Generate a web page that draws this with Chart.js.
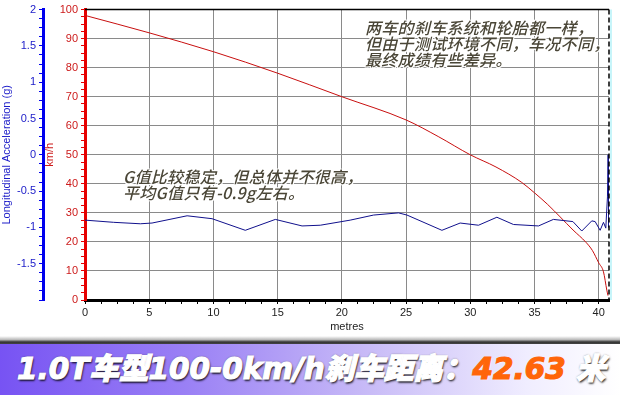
<!DOCTYPE html>
<html>
<head>
<meta charset="utf-8">
<script src="https://cdn.jsdelivr.net/npm/chart.js@4"></script>
<style>
    body { margin: 0; background: #fff; }
    #wrap { position: relative; width: 620px; height: 395px; overflow: hidden; background: #fff; }
    #chartBox { position: absolute; left: 0; top: 0; width: 620px; height: 340px; }
    .note {
        position: absolute;
        font-family: "Noto Sans CJK SC", sans-serif;
        font-style: italic;
        font-weight: 500;
        font-size: 16px;
        line-height: 16px;
        letter-spacing: 0.3px;
        color: #4a4637;
        white-space: nowrap;
        text-shadow: 1px 1px 0 #fff, -1px -1px 0 #fff, 1px -1px 0 #fff, -1px 1px 0 #fff;
    }
    #shadow {
        position: absolute; left: 0; top: 336px; width: 620px; height: 8px;
        background: linear-gradient(180deg, rgba(255,255,255,0) 0%, #bbb 45%, #333 75%, #444 100%);
    }
    #banner {
        position: absolute; left: 0; top: 344px; width: 620px; height: 51px;
        background: linear-gradient(90deg, #7753f3 0%, #9a80f5 30%, #c9bcf7 60%, #f0edff 85%, #ffffff 100%);
    }
    #banner span.t {
        position: absolute; left: 17px; top: 6px;
        font-family: "DejaVu Sans", "Noto Sans CJK SC", sans-serif;
        font-weight: 900;
        font-style: italic;
        font-size: 29.5px;
        line-height: 38px;
        color: #fff;
        -webkit-text-stroke: 1.2px #fff;
        white-space: nowrap;
        text-shadow: 1px 2px 2px rgba(0,0,0,0.8), 0 0 2px #444;
    }
    #banner .num {
        color: #ff650a;
        -webkit-text-stroke: 1.2px #ff650a;
        text-shadow: 0 0 1px #fff, 1px 1px 1px rgba(255,255,255,0.8);
    }
</style>
</head>
<body>
<div id="wrap">
    <div id="chartBox"><canvas id="brakeChart"></canvas></div>
    <div class="note" style="left:365px; top:19px;">两车的刹车系统和轮胎都一样，<br>但由于测试环境不同，车况不同，<br>最终成绩有些差异。</div>
    <div class="note" style="left:123px; top:168px;">G值比较稳定，但总体并不很高，<br>平均G值只有-0.9g左右。</div>
    <div id="shadow"></div>
    <div id="banner"><span class="t">1.0T车型100-0km/h刹车距离：<span class="num">42.63</span> 米</span></div>
</div>

<script>
// Velocidade (km/h) x distância (m)
const speedDist = [0, 5, 10, 15, 20, 25, 27.5, 30, 32, 34, 35, 36, 37, 38, 39, 39.5, 40, 40.37, 40.63, 40.72];
const speedKmh = [98.0, 92.0, 85.5, 78.1, 70.0, 62.0, 56.3, 50.0, 45.8, 40.5, 36.9, 33.0, 28.6, 24.1, 19.9, 17.1, 12.8, 9.7, 3.4, 1.5];

// Aceleração longitudinal (g) x distância (m)
const accelDist = [0, 2.23, 4.31, 5.22, 7.95, 9.89, 12.48, 14.82, 16.9, 18.32, 20.65, 22.47, 24.41, 25.07, 27.79,
    29.21, 30.64, 32.07, 33.36, 35.31, 36.47, 37.99, 38.68, 39.46, 39.72, 40.11, 40.37, 40.55, 40.68, 40.73, 40.78];
const accelG = [-0.90, -0.93, -0.95, -0.94, -0.84, -0.88, -1.04, -0.89, -0.98, -0.97, -0.90, -0.83, -0.80, -0.83, -1.04,
    -0.94, -0.97, -0.86, -0.96, -0.98, -0.89, -0.92, -1.05, -0.91, -0.92, -1.04, -0.93, -1.01, -0.58, 0.0, -1.0];

// Rótulos dos eixos
const distLabels = [0, 5, 10, 15, 20, 25, 30, 35, 40];
const speedLabels = [0, 10, 20, 30, 40, 50, 60, 70, 80, 90, 100];
const gLabels = [-1.5, -1, -0.5, 0, 0.5, 1, 1.5, 2];

const tickFont = { family: 'Liberation Sans', size: 11 };

function toPoints(xs, ys) {
    return xs.map((x, i) => ({ x: x, y: ys[i] }));
}

// Moldura: linha superior e borda direita tracejada
const framePlugin = {
    id: 'frame',
    afterDraw(chart) {
        const { ctx, chartArea: a } = chart;
        ctx.save();
        ctx.strokeStyle = '#000';
        ctx.lineWidth = 1.5;
        ctx.beginPath();
        ctx.moveTo(a.left, a.top);
        ctx.lineTo(a.right, a.top);
        ctx.stroke();
        ctx.setLineDash([5, 3]);
        ctx.beginPath();
        ctx.moveTo(a.right, a.top);
        ctx.lineTo(a.right, a.bottom);
        ctx.stroke();
        ctx.setLineDash([]);
        ctx.strokeStyle = '#b4f2f8';
        ctx.lineWidth = 1.5;
        ctx.beginPath();
        ctx.moveTo(a.right + 2, a.top);
        ctx.lineTo(a.right + 2, a.bottom);
        ctx.stroke();
        ctx.restore();
    }
};

function initBrakeChart() {
    const ctx = document.getElementById('brakeChart').getContext('2d');

    new Chart(ctx, {
        type: 'line',
        data: {
            datasets: [{
                label: 'Longitudinal Acceleration (g)',
                data: toPoints(accelDist, accelG),
                yAxisID: 'yG',
                borderColor: '#10108c',
                borderWidth: 1,
                pointRadius: 0,
                tension: 0
            }, {
                label: 'km/h',
                data: toPoints(speedDist, speedKmh),
                yAxisID: 'yV',
                borderColor: '#c80f0f',
                borderWidth: 1,
                pointRadius: 0,
                cubicInterpolationMode: 'monotone'
            }]
        },
        options: {
            responsive: true,
            maintainAspectRatio: false,
            animation: false,
            layout: { padding: { top: 8, right: 11, bottom: 2, left: 0 } },
            plugins: {
                legend: { display: false },
                tooltip: { enabled: false }
            },
            scales: {
                x: {
                    type: 'linear',
                    min: 0,
                    max: 40.8,
                    afterFit: s => { s.height = 38; },
                    border: { color: '#000', width: 3 },
                    grid: {
                        color: c => (c.tick && distLabels.includes(c.tick.value) && c.tick.value !== 0) ? '#8a8a8a' : 'rgba(0,0,0,0)',
                        borderDash: [4, 3],
                        tickColor: '#000',
                        tickLength: 4,
                        tickWidth: 1
                    },
                    ticks: {
                        stepSize: 1.25,
                        includeBounds: false,
                        autoSkip: false,
                        maxRotation: 0,
                        padding: 2,
                        color: '#222',
                        font: tickFont,
                        callback: v => distLabels.includes(v) ? String(v) : ''
                    },
                    title: {
                        display: true,
                        text: 'metres',
                        color: '#222',
                        font: tickFont,
                        padding: { top: 0, bottom: 4 }
                    }
                },
                yG: {
                    type: 'linear',
                    position: 'left',
                    weight: 1,
                    min: -2,
                    max: 2,
                    afterFit: s => { s.width = 43; },
                    border: { color: '#0000ee', width: 3 },
                    grid: {
                        drawOnChartArea: false,
                        color: '#0000ee',
                        tickColor: '#0000ee',
                        tickLength: 4
                    },
                    ticks: {
                        stepSize: 0.125,
                        autoSkip: false,
                        padding: 3,
                        color: '#1a1ac8',
                        font: tickFont,
                        callback: v => gLabels.includes(v) ? String(v) : ''
                    },
                    title: {
                        display: true,
                        text: 'Longitudinal Acceleration (g)',
                        color: '#1a1ac8',
                        font: tickFont,
                        padding: { top: 0, bottom: 0 }
                    }
                },
                yV: {
                    type: 'linear',
                    position: 'left',
                    weight: 0,
                    min: 0,
                    max: 100,
                    afterFit: s => { s.width = 42; },
                    border: { color: '#e60000', width: 3 },
                    grid: {
                        color: c => (c.tick && c.tick.value % 10 === 0 && c.tick.value > 0 && c.tick.value < 100) ? '#8a8a8a' : 'rgba(0,0,0,0)',
                        borderDash: [4, 3],
                        tickColor: '#e60000',
                        tickLength: 4,
                        tickWidth: 1
                    },
                    ticks: {
                        stepSize: 2.5,
                        autoSkip: false,
                        padding: 3,
                        color: '#cc1a1a',
                        font: tickFont,
                        callback: v => speedLabels.includes(v) ? String(v) : ''
                    },
                    title: {
                        display: true,
                        text: 'km/h',
                        color: '#cc1a1a',
                        font: tickFont,
                        padding: { top: 0, bottom: 0 }
                    }
                }
            }
        },
        plugins: [framePlugin]
    });
}

document.addEventListener('DOMContentLoaded', initBrakeChart);
</script>
</body>
</html>
